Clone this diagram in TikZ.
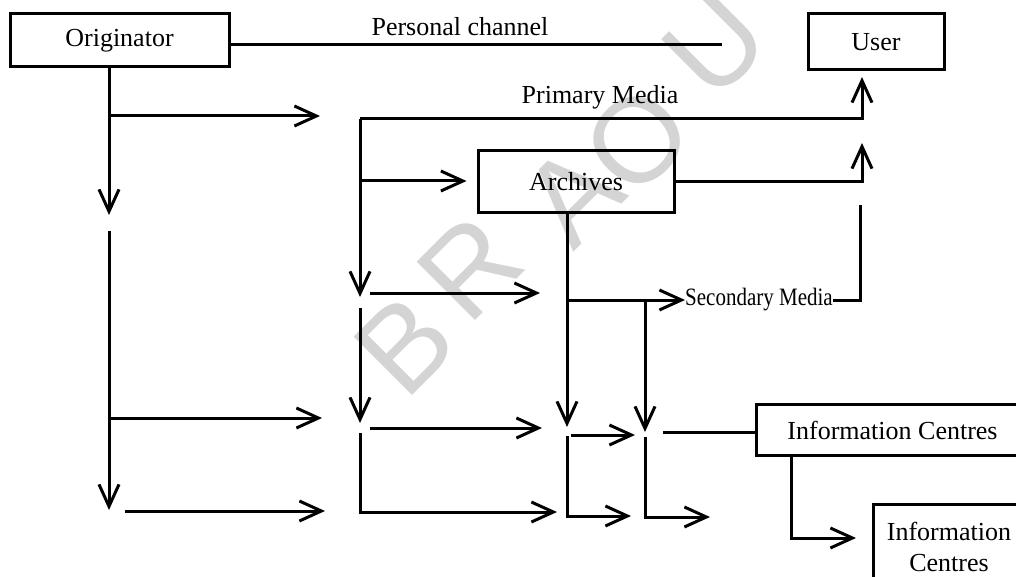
\documentclass[tikz,border=0pt]{standalone}
\usepackage{fontspec}
\setmainfont{Liberation Serif}
\newfontfamily\narrowfont[FakeStretch=0.84]{Liberation Serif}
\newfontfamily\markfont{Liberation Sans}
\usetikzlibrary{arrows.meta,positioning}
\tikzstyle{unit}=[
	rectangle,
	draw,
	line width=3pt,
	inner sep=0pt,
	font=\fontsize{26}{31}\selectfont
]
\tikzstyle{caption}=[
	inner sep=0pt,
	font=\fontsize{26}{31}\selectfont
]
\tikzstyle{wire}=[
	line width=3pt
]
\tikzstyle{flow}=[
	-{Straight Barb[length=22pt,width=20pt]},
	line width=3pt
]
\tikzstyle{stamp}=[
	text=black!17,
	inner sep=0pt,
	rotate=45,
	font=\markfont\fontsize{120}{120}\selectfont
]

\begin{document}
\begin{tikzpicture}[x=1pt,y=-1pt]
\path[use as bounding box] (0,0) rectangle (1016,577);
\clip (0,0) rectangle (1016,577);
% watermark
\node [stamp] (StampB) at (405,345) {B};
\node [stamp] (StampR) at (470,268) {R};
\node [stamp] (StampA) at (573,195) {A};
\node [stamp] (StampO) at (637,140) {O};
\node [stamp] (StampU) at (715,45) {U};
% boxes and labels
\node [unit, minimum width=219pt, minimum height=53pt] (Originator) at (119.5,40.5) {Originator};
\node [unit, minimum width=136pt, minimum height=56pt] (User) at (876,42) {User};
\node [unit, minimum width=196pt, minimum height=62pt] (Archives) at (576,182) {Archives};
\node [unit, minimum width=273pt, minimum height=51pt] (InfoCentres) at (892.5,430) {Information Centres};
\node [unit, minimum width=152pt, minimum height=86pt, align=center] (InfoCentresB) at (949,547) {Information\\Centres};
\node [caption] (Personal) at (460,27) {Personal channel};
\node [caption] (Primary) at (600,97) {Primary Media};
\node [caption, font=\narrowfont\fontsize{25}{30}\selectfont] (Secondary) at (759,300) {Secondary Media};
% junctions
\coordinate (pc) at (722,45);
\coordinate (a1) at (109,116); \coordinate (a1t) at (320,116);
\coordinate (a2) at (109,215);
\coordinate (a3) at (109,231); \coordinate (a4) at (109,510);
\coordinate (a5) at (109,418); \coordinate (a5t) at (322,418);
\coordinate (a6) at (125,511); \coordinate (a6t) at (325,511);
\coordinate (b0) at (360,119); \coordinate (b1) at (360,181);
\coordinate (b2) at (360,297);
\coordinate (b3) at (370,293); \coordinate (b3t) at (540,293);
\coordinate (b4) at (360,308); \coordinate (b5) at (360,423);
\coordinate (b6) at (370,428); \coordinate (b6t) at (542,428);
\coordinate (b7) at (360,433); \coordinate (b8t) at (557,512);
\coordinate (c1) at (567,427); \coordinate (c2) at (567,300);
\coordinate (c3) at (571,435); \coordinate (c3t) at (635,435);
\coordinate (c4) at (567,436); \coordinate (c5t) at (631,516);
\coordinate (d1) at (645,300); \coordinate (d2) at (645,432);
\coordinate (d3) at (663,432);
\coordinate (d4) at (645,437); \coordinate (d5t) at (710,517);
\coordinate (e0) at (791,459); \coordinate (e1t) at (856,538);
\coordinate (u1) at (862,77); \coordinate (u2) at (862,143); \coordinate (u3) at (860,205);
% connectors
\draw [wire] (Originator.east |- pc) -- (pc);
\draw [flow] (Originator.south -| a2) -- (a2);
\draw [flow] (a1) -- (a1t);
\draw [flow] (a3) -- (a4);
\draw [flow] (a5) -- (a5t);
\draw [flow] (a6) -- (a6t);
\draw [flow] (b0) -| (u1);
\draw [flow] (b0) -- (b2);
\draw [flow, shorten >=10pt] (b1) -- (b1 -| Archives.west);
\draw [flow] (b3) -- (b3t);
\draw [flow] (b4) -- (b5);
\draw [flow] (b6) -- (b6t);
\draw [flow] (b7) |- (b8t);
\draw [flow] (Archives.east) -| (u2);
\draw [flow] (Archives.south -| c1) -- (c1);
\draw [flow] (c2) -- (Secondary.west);
\draw [flow] (c3) -- (c3t);
\draw [flow] (c4) |- (c5t);
\draw [wire] (Secondary.east) -| (u3);
\draw [flow] (d1) -- (d2);
\draw [wire] (d3) -- (d3 -| InfoCentres.west);
\draw [flow] (d4) |- (d5t);
\draw [flow] (InfoCentres.south -| e0) |- (e1t);
\end{tikzpicture}
\end{document}
